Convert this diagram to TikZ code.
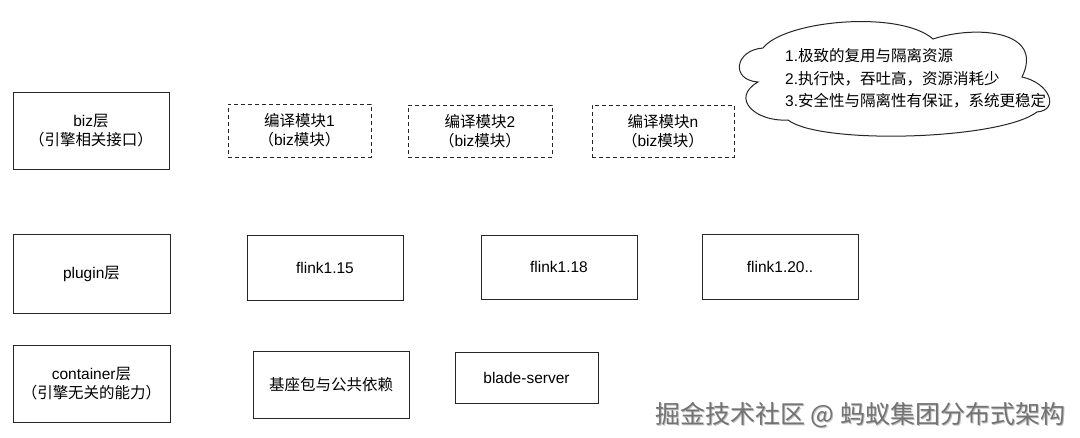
\documentclass[tikz,border=0pt]{standalone}
\usepackage{fontspec}
\setmainfont{Liberation Sans}
\newfontfamily\cjk{Noto Sans CJK SC}
\begin{document}
\begin{tikzpicture}[x=1pt,y=-1pt,
  box/.style={draw=black!85,line width=1pt,rectangle,inner sep=0pt,align=center,
    font=\fontsize{15.5}{19}\selectfont},
  dbox/.style={box,dash pattern=on 4pt off 3pt},
  lbl/.style={align=left,inner sep=0pt,font=\fontsize{15.5}{22.5}\selectfont},
  cloudline/.style={draw=black!85,line width=1pt,fill=white}
]
\useasboundingbox (0,0) rectangle (1080,437);
\fill[white] (0,0) rectangle (1080,437);

\node[box,minimum width=156,minimum height=77] (biz) at (91,130.5) {biz{\cjk 层}\\{\cjk （引擎相关接口）}};
\node[box,minimum width=157,minimum height=79] (plugin) at (91.5,273.5) {plugin{\cjk 层}};
\node[box,minimum width=157,minimum height=77] (container) at (91.5,383.5) {container{\cjk 层}\\{\cjk （引擎无关的能力）}};

\node[dbox,minimum width=143,minimum height=53] (m1) at (299.5,130.5) {{\cjk 编译模块}1\\{\cjk （}biz{\cjk 模块）}};
\node[dbox,minimum width=144,minimum height=52] (m2) at (480,131) {{\cjk 编译模块}2\\{\cjk （}biz{\cjk 模块）}};
\node[dbox,minimum width=142,minimum height=52] (mn) at (663,131) {{\cjk 编译模块}n\\{\cjk （}biz{\cjk 模块）}};

\node[box,minimum width=156,minimum height=65] (f15) at (325,267.5) {flink1.15};
\node[box,minimum width=156,minimum height=64] (f18) at (559,267) {flink1.18};
\node[box,minimum width=156,minimum height=65] (f20) at (780,267) {flink1.20..};

\node[box,minimum width=156,minimum height=67] (base) at (331,384.5) {\cjk 基座包与公共依赖};
\node[box,minimum width=143,minimum height=51] (blade) at (526.5,377.5) {blade-server};

\path[cloudline] (763,48) .. controls (785,20) and (900,10) .. (933,39)
  .. controls (975,25) and (1045,30) .. (1022,77)
  .. controls (1050,83) and (1060,110) .. (1037,112)
  .. controls (1000,140) and (820,145) .. (788,120)
  .. controls (755,122) and (730,98) .. (758,82)
  .. controls (730,80) and (735,50) .. cycle;
\node[lbl,anchor=west] (ctext) at (785,78.5) {1.{\cjk 极致的复用与隔离资源}\\2.{\cjk 执行快，吞吐高，资源消耗少}\\3.{\cjk 安全性与隔离性有保证，系统更稳定}};

\node[inner sep=0pt,anchor=west,text=black!25,font=\fontsize{25}{25}\selectfont] (wmshadow) at (656,416) {\cjk 掘金技术社区 @ 蚂蚁集团分布式架构};
\node[inner sep=0pt,anchor=west,text=black!55,font=\fontsize{25}{25}\selectfont] (wm) at (655,415) {\cjk 掘金技术社区 @ 蚂蚁集团分布式架构};
\end{tikzpicture}
\end{document}
